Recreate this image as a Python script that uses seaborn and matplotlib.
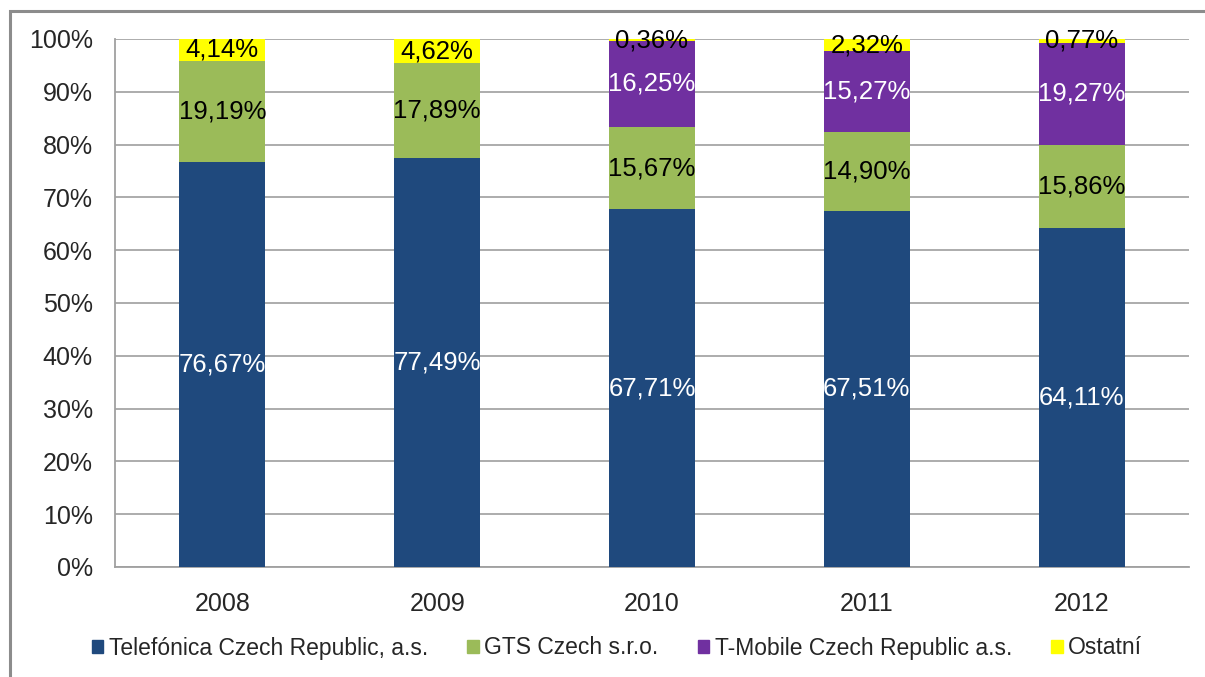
import matplotlib.pyplot as plt
import matplotlib.patches as mpatches
import seaborn as sns
import numpy as np
import pandas as pd

sns.set_theme(style="white")
plt.rcParams['font.family'] = ['Liberation Sans', 'DejaVu Sans']

years = ['2008', '2009', '2010', '2011', '2012']
operators = ['Telefónica Czech Republic, a.s.', 'GTS Czech s.r.o.',
             'T-Mobile Czech Republic a.s.', 'Ostatní']
telefonica = [76.67, 77.49, 67.71, 67.51, 64.11]
gts = [19.19, 17.89, 15.67, 14.90, 15.86]
tmobile = [0.0, 0.0, 16.25, 15.27, 19.27]
ostatni = [4.14, 4.62, 0.36, 2.32, 0.77]

colors = ['#1F497D', '#9BBB59', '#7030A0', '#FFFF00']
label_colors = ['white', 'black', 'white', 'black']

shares = np.array([telefonica, gts, tmobile, ostatni])
bottoms = np.vstack([np.zeros(len(years)), np.cumsum(shares, axis=0)[:-1]])
tops = np.cumsum(shares, axis=0)

fig = plt.figure(figsize=(12.05, 6.77), dpi=100)
ax = fig.add_axes([115 / 1205, 1 - 567 / 677, (1189 - 115) / 1205, (567 - 39) / 677])

# stacked bars: draw cumulative totals from the top series down
for i in range(len(operators) - 1, -1, -1):
    df = pd.DataFrame({'year': years, 'top': tops[i]})
    sns.barplot(data=df, x='year', y='top', color=colors[i], width=0.4,
                saturation=1, ax=ax, zorder=3, linewidth=0)

# data labels
for i in range(len(operators)):
    for j in range(len(years)):
        if shares[i, j] <= 0:
            continue
        txt = f"{shares[i, j]:.2f}%".replace('.', ',')
        ax.text(j, bottoms[i, j] + shares[i, j] / 2, txt, ha='center', va='center',
                fontsize=18.5, color=label_colors[i], zorder=5)

ax.set_ylim(0, 100)
ax.set_xlim(-0.5, 4.5)
ax.set_yticks(np.arange(0, 101, 10))
ax.set_yticklabels([f"{v}%" for v in range(0, 101, 10)], fontsize=18)
ax.set_xticks(range(len(years)))
ax.set_xticklabels(years, fontsize=18)
ax.set_xlabel('')
ax.set_ylabel('')
ax.set_xticks(np.arange(-0.5, 5, 1), minor=True)
ax.tick_params(axis='x', which='major', length=0, pad=18)
ax.tick_params(axis='x', which='minor', length=8, color='#A0A0A0', width=1.2, direction='out')
ax.tick_params(axis='y', length=7, color='#A0A0A0', width=1.2, direction='out', pad=9)
ax.yaxis.grid(True, color='#A6A6A6', linewidth=1.3, zorder=0)
ax.set_axisbelow(True)
for s in ['top', 'right']:
    ax.spines[s].set_visible(False)
for s in ['left', 'bottom']:
    ax.spines[s].set_color('#A0A0A0')
    ax.spines[s].set_linewidth(1.3)

handles = [mpatches.Patch(color=c, label=l) for c, l in zip(colors, operators)]
fig.legend(handles=handles, loc='center', bbox_to_anchor=(617 / 1205, 1 - 648 / 677),
           ncol=4, frameon=False, fontsize=16.5, handlelength=0.5, handleheight=0.5,
           handletextpad=0.25, columnspacing=1.7)

border = mpatches.Rectangle((10 / 1205, -0.05), 1.2, 1 - 11 / 677 + 0.05,
                            transform=fig.transFigure, fill=False,
                            edgecolor='#8C8C8C', linewidth=2.2)
fig.patches.append(border)

fig.savefig('out.png', dpi=100)
